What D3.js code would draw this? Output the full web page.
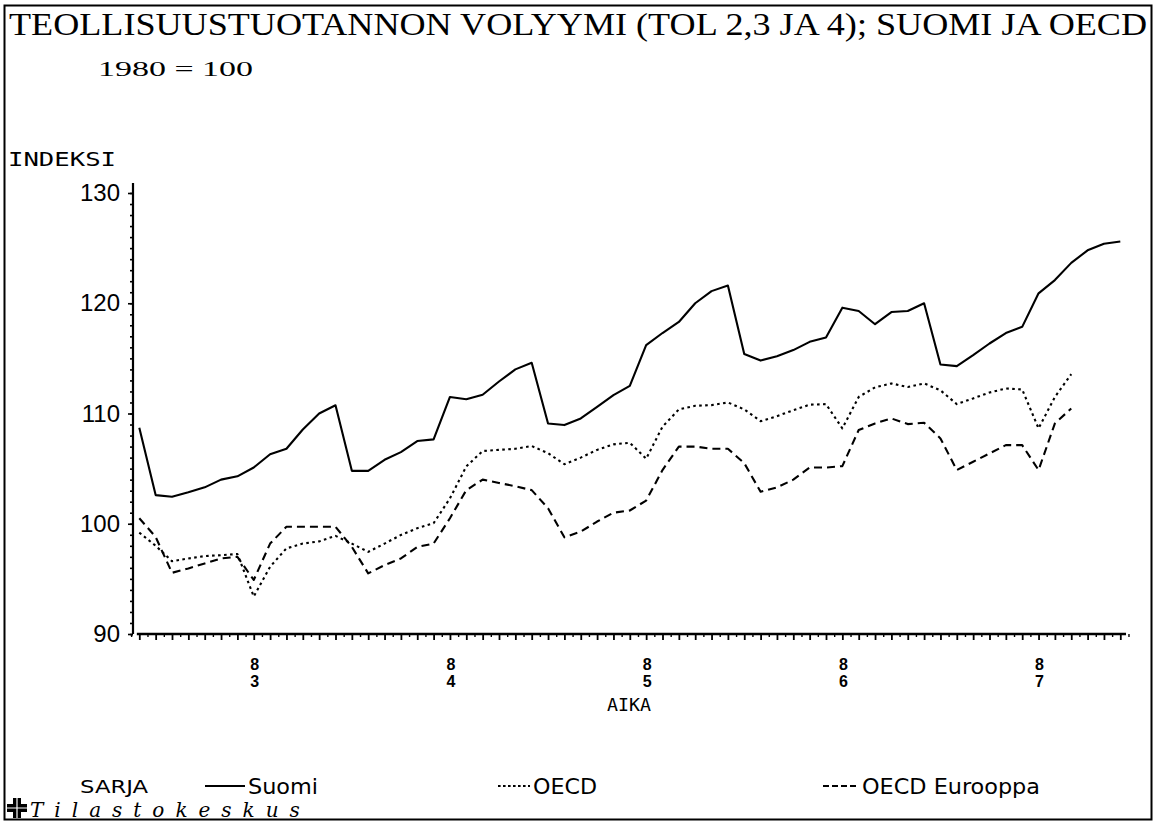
<!DOCTYPE html>
<html><head><meta charset="utf-8">
<script src="https://cdn.jsdelivr.net/npm/d3@7"></script>
<style>html,body{margin:0;padding:0;background:#fff}svg{display:block}</style>
</head><body><div id="chart"></div>
<script>
// ---- data (monthly, index 0 = June 1982) ----
const startYear = 1982, startMonth = 6;
const yearLabels = ["83", "84", "85", "86", "87"];
const yTickValues = [90, 100, 110, 120, 130];
const seriesNames = ["Suomi", "OECD", "OECD Eurooppa"];

const suomi = [108.7, 102.6, 102.45, 102.85, 103.3, 104.0, 104.3, 105.1, 106.3, 106.8,
  108.55, 110.0, 110.75, 104.8, 104.8, 105.8, 106.5, 107.5, 107.65, 111.5,
  111.3, 111.7, 112.9, 114.0, 114.6, 109.1, 108.95, 109.55, 110.6, 111.67,
  112.5, 116.2, 117.3, 118.3, 120.0, 121.1, 121.6, 115.4, 114.8, 115.2,
  115.75, 116.5, 116.9, 119.6, 119.3, 118.1, 119.2, 119.3, 120.0, 114.45,
  114.3, 115.3, 116.35, 117.3, 117.86, 120.9, 122.1, 123.66, 124.8, 125.4, 125.6];

const oecd = [99.2, 98.0, 96.6, 96.85, 97.07, 97.15, 97.25, 93.4, 96.1, 97.77,
  98.2, 98.4, 98.9, 98.2, 97.45, 98.2, 98.98, 99.6, 100.05, 102.3,
  105.2, 106.6, 106.7, 106.8, 107.05, 106.4, 105.4, 106.0, 106.7, 107.2,
  107.35, 105.9, 108.8, 110.37, 110.7, 110.76, 111.0, 110.37, 109.3, 109.76,
  110.3, 110.8, 110.85, 108.65, 111.5, 112.37, 112.73, 112.4, 112.73, 112.1,
  110.85, 111.37, 111.9, 112.27, 112.18, 108.65, 111.5, 113.57];

const oecdEurooppa = [100.5, 98.8, 95.55, 95.95, 96.4, 96.85, 97.0, 94.9, 98.2, 99.73,
  99.73, 99.73, 99.73, 97.9, 95.5, 96.25, 96.85, 97.9, 98.2, 100.5,
  103.05, 104.0, 103.7, 103.4, 103.05, 101.4, 98.77, 99.28, 100.2, 101.0,
  101.2, 102.1, 104.87, 107.0, 107.0, 106.8, 106.8, 105.5, 102.9, 103.3,
  104.0, 105.1, 105.1, 105.23, 108.5, 109.1, 109.55, 109.04, 109.16, 107.74,
  104.87, 105.62, 106.38, 107.13, 107.13, 104.87, 109.1, 110.46];

// ---- layout ----
const W = 1157, H = 822;
const svg = d3.select("#chart").append("svg").attr("width", W).attr("height", H)
  .style("font-family", "'Liberation Serif', serif");

// frame
svg.append("rect").attr("x", 4.5).attr("y", 5.5).attr("width", 1147).attr("height", 814)
  .attr("fill", "none").attr("stroke", "#000").attr("stroke-width", 2);

const nMonths = suomi.length - 1;
const x = d3.scaleLinear().domain([0, nMonths]).range([139.3, 1120.3]);
const y = d3.scaleLinear().domain([90, 130]).range([634, 193]);

// titles
svg.append("text").attr("x", 9).attr("y", 35)
  .attr("font-size", 31).attr("textLength", 1138).attr("lengthAdjust", "spacingAndGlyphs")
  .text("TEOLLISUUSTUOTANNON VOLYYMI (TOL 2,3 JA 4); SUOMI JA OECD");
svg.append("text").attr("x", 98).attr("y", 76)
  .attr("font-size", 22).attr("textLength", 155).attr("lengthAdjust", "spacingAndGlyphs")
  .text("1980 = 100");
svg.append("text").attr("x", 8).attr("y", 166)
  .attr("font-family", "'DejaVu Sans Mono', monospace").attr("font-size", 19)
  .attr("textLength", 108).attr("lengthAdjust", "spacingAndGlyphs")
  .text("INDEKSI");

// ---- y axis ----
const gy = svg.append("g").attr("transform", "translate(133,0)");
gy.call(d3.axisLeft(y).tickValues(d3.range(90, 131, 1)).tickSize(3).tickFormat(""))
  .call(g => g.select(".domain").remove());
gy.append("line").attr("x1", 0).attr("x2", 0).attr("y1", y(130.9)).attr("y2", y(90))
  .attr("stroke", "#000").attr("stroke-width", 2.2);
const gyMajor = svg.append("g").attr("transform", "translate(133,0)")
  .call(d3.axisLeft(y).tickValues(yTickValues).tickSize(5).tickPadding(8));
gyMajor.select(".domain").remove();
gyMajor.selectAll("text").attr("font-family", "'Liberation Sans', Arial, sans-serif")
  .attr("font-size", 24).attr("fill", "#000");
svg.selectAll(".tick line").attr("stroke", "#000").attr("stroke-width", 1.6);

// ---- x axis ----
const gx = svg.append("g").attr("transform", "translate(0,634)");
gx.call(d3.axisBottom(x).tickValues(d3.range(0, nMonths + 1)).tickSize(6).tickFormat(""))
  .call(g => g.select(".domain").remove());
gx.call(g => g.selectAll(".tick line").attr("stroke", "#000").attr("stroke-width", 1.8));
const gxm = svg.append("g").attr("transform", "translate(0,634)");
gxm.call(d3.axisBottom(x).tickValues(d3.range(-0.5, nMonths + 0.6, 1)).tickSize(3).tickFormat(""))
  .call(g => g.select(".domain").remove());
gxm.selectAll(".tick line").attr("stroke", "#000").attr("stroke-width", 1.4);
svg.append("line").attr("x1", x(-0.15)).attr("x2", x(nMonths + 0.35)).attr("y1", 634).attr("y2", 634)
  .attr("stroke", "#000").attr("stroke-width", 2.4);

// year labels at January of each year
const yearIdx = yearLabels.map((lab, i) => (i + 1) * 12 - (startMonth - 1));
const gLab = svg.append("g").attr("font-family", "'Liberation Sans', Arial, sans-serif")
  .attr("font-weight", "bold").attr("font-size", 16).attr("text-anchor", "middle");
yearLabels.forEach((lab, i) => {
  const t = gLab.append("text").attr("x", x(yearIdx[i]) + 1).attr("y", 670);
  t.append("tspan").attr("x", x(yearIdx[i]) + 1).attr("dy", 0).text(lab[0]);
  t.append("tspan").attr("x", x(yearIdx[i]) + 1).attr("dy", 17).text(lab[1]);
});
svg.append("text").attr("x", 629).attr("y", 711).attr("text-anchor", "middle")
  .attr("font-family", "'DejaVu Sans Mono', monospace").attr("font-size", 18)
  .attr("textLength", 44).attr("lengthAdjust", "spacingAndGlyphs").text("AIKA");

// ---- series ----
const line = d3.line().x((d, i) => x(i)).y(d => y(d));
const styles = [
  {data: suomi, dash: null},
  {data: oecd, dash: "2.6,3.4"},
  {data: oecdEurooppa, dash: "8,5"}
];
styles.forEach(s => {
  svg.append("path").datum(s.data).attr("d", line)
    .attr("fill", "none").attr("stroke", "#000").attr("stroke-width", 2.1)
    .attr("stroke-linejoin", "round")
    .attr("stroke-dasharray", s.dash);
});

// ---- legend ----
const lg = svg.append("g");
const legY = 786;
lg.append("text").attr("x", 80).attr("y", legY + 7)
  .attr("font-family", "'DejaVu Sans Condensed', 'Liberation Sans Narrow', sans-serif")
  .attr("font-size", 17).attr("textLength", 68).attr("lengthAdjust", "spacingAndGlyphs").text("SARJA");
const legendItems = [
  {name: seriesNames[0], x1: 205, x2: 245, tx: 248, tw: 70, dash: null},
  {name: seriesNames[1], x1: 498, x2: 530, tx: 533, tw: 64, dash: "2.6,2.4"},
  {name: seriesNames[2], x1: 823, x2: 858, tx: 862, tw: 178, dash: "6,3"}
];
legendItems.forEach(it => {
  lg.append("line").attr("x1", it.x1).attr("x2", it.x2).attr("y1", legY).attr("y2", legY)
    .attr("stroke", "#000").attr("stroke-width", 2).attr("stroke-dasharray", it.dash);
  lg.append("text").attr("x", it.tx).attr("y", legY + 8)
    .attr("font-family", "'DejaVu Sans Condensed', 'Liberation Sans Narrow', sans-serif")
    .attr("font-size", 21).attr("textLength", it.tw).attr("lengthAdjust", "spacingAndGlyphs")
    .text(it.name);
});

// ---- footer logo + name ----
const logo = svg.append("g").attr("transform", "translate(17,808)");
logo.append("path").attr("d", "M-4,-10 h8 v6 h6 v8 h-6 v6 h-8 v-6 h-6 v-8 h6 z").attr("fill", "#000");
logo.append("path").attr("d", "M0,-10 V10 M-10,0 H10").attr("stroke", "#fff").attr("stroke-width", 1.2);
svg.append("text").attr("x", 30).attr("y", 817)
  .attr("font-family", "'DejaVu Serif', serif").attr("font-style", "italic").attr("font-size", 20)
  .attr("letter-spacing", 11).text("Tilastokeskus");
</script>
</body></html>
